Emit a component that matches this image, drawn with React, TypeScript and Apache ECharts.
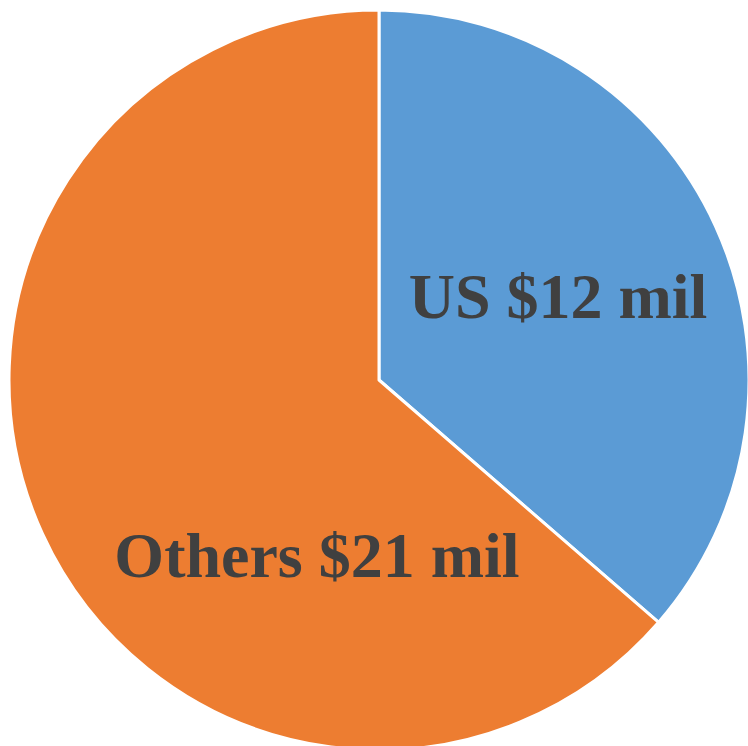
import React, { useEffect, useRef } from "react";
import * as echarts from "echarts";

const categories = ["US", "Others"];
const values = [12, 21];
const labels = ["US $12 mil", "Others $21 mil"];
const colors = ["#5B9BD5", "#ED7D31"];
const labelShift = [
  [8, -5],
  [109, 97],
];

export default function App() {
  const ref = useRef<HTMLDivElement>(null);
  useEffect(() => {
    if (!ref.current) return;
    const chart = echarts.init(ref.current, null, { renderer: "svg" });
    chart.setOption({
      animation: false,
      backgroundColor: "#ffffff",
      series: [
        {
          type: "pie",
          center: [379, 380],
          radius: [0, 370],
          startAngle: 90,
          clockwise: true,
          silent: true,
          data: categories.map((c, i) => ({
            name: c,
            value: values[i],
            itemStyle: { color: colors[i] },
          })),
          itemStyle: { borderColor: "#ffffff", borderWidth: 3 },
          label: {
            show: true,
            position: "inside",
            formatter: (p: any) => labels[p.dataIndex],
            fontFamily: "'Liberation Serif', 'Times New Roman', serif",
            fontWeight: "bold",
            fontSize: 64,
            color: "#404040",
          },
          labelLine: { show: false },
          labelLayout: (p: any) => ({
            dx: labelShift[p.dataIndex][0],
            dy: labelShift[p.dataIndex][1],
          }),
        },
      ],
    });
    return () => chart.dispose();
  }, []);
  return (
    <div
      ref={ref}
      style={{ position: "absolute", left: 0, top: 0, width: 748, height: 746 }}
    />
  );
}
